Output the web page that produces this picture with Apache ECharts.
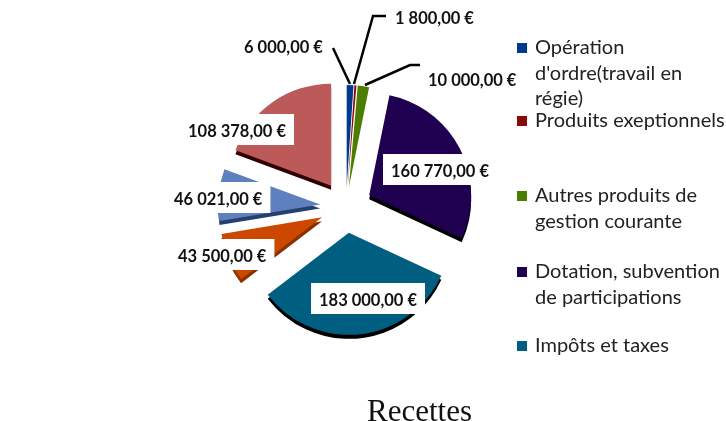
<!DOCTYPE html>
<html>
<head>
<meta charset="utf-8">
<style>
html, body { margin: 0; padding: 0; background: #fff; }
#chart { width: 726px; height: 421px; }
</style>
<script src="https://cdn.jsdelivr.net/npm/echarts@6/dist/echarts.min.js"></script>
</head>
<body>
<div id="chart"></div>
<script>
// values, clockwise from the top
const names = [
    "Opération d'ordre(travail en régie)",
    'Produits exeptionnels',
    'Autres produits de gestion courante',
    'Dotation, subvention de participations',
    'Impôts et taxes',
    'Charges diverses',
    'Produits divers',
    'Autres recettes'
];
const values = [6000, 1800, 10000, 160770, 183000, 43500, 46021, 108378];
const colors = ['#003a8c', '#8a0a0a', '#4a7d00', '#200050', '#005f80', '#cc4800', '#5f80bf', '#bc5a5a'];
const sideColors = ['#001a4c', '#400000', '#254000', '#000000', '#000000', '#8a3000', '#24406f', '#300000'];
const smallSlices = [0, 1, 2];

// legend: first line goes in the legend, the rest of each name below it
const legendFirstLines = ['Opération', 'Produits exeptionnels', 'Autres produits de', 'Dotation, subvention', 'Impôts et taxes'];
const legendMoreLines = [["d'ordre(travail en", 'régie)'], [], ['gestion courante'], ['de participations'], []];
const legendTops = [38, 111, 186, 262, 336];
const legendLineGap = 25.5;

// left/top of the white label boxes, one per slice
const labelPos = [
    [236, 30], [387, 1], [420, 63], [383, 154], [311, 283], [170, 239], [166, 182], [180, 114]
];
const leaders = {
    0: [[350, 84], [333, 48]],
    1: [[354, 84], [373, 16], [386, 16]],
    2: [[365, 85], [410, 65], [420, 65]]
};

const pieCenter = [346, 207];
const pieRadius = 102;

function money(v) {
    return String(v).replace(/\B(?=(\d{3})+$)/g, ' ') + ',00 €';
}

function sliceData(palette, visible) {
    return values.map(function (v, i) {
        return {
            name: names[i],
            value: v,
            selected: true,
            itemStyle: { color: visible(i) ? palette[i] : 'transparent' }
        };
    });
}

function pieSeries(center, offset, data) {
    return {
        type: 'pie',
        silent: true,
        radius: [0, pieRadius],
        center: center,
        startAngle: 90,
        selectedMode: 'multiple',
        selectedOffset: offset,
        animation: false,
        label: { show: false },
        labelLine: { show: false },
        data: data
    };
}

// transparent pie on top, only carries the labels and leader lines
function labelSeries() {
    return {
        type: 'pie',
        silent: true,
        z: 10,
        radius: [0, pieRadius],
        center: pieCenter,
        startAngle: 90,
        avoidLabelOverlap: false,
        animation: false,
        itemStyle: { color: 'transparent' },
        data: values.map(function (v, i) {
            return {
                name: names[i],
                value: v,
                labelLine: { show: smallSlices.indexOf(i) >= 0 }
            };
        }),
        label: {
            position: 'outside',
            formatter: function (p) { return money(p.value); },
            backgroundColor: '#fff',
            padding: [9, 8, 5, 8],
            fontFamily: 'Lato',
            fontWeight: 'bold',
            fontSize: 16.5,
            color: '#111'
        },
        labelLine: { lineStyle: { color: '#000', width: 2.5 } },
        labelLayout: function (p) {
            const pos = labelPos[p.dataIndex];
            const out = { x: pos[0], y: pos[1], align: 'left', verticalAlign: 'top' };
            if (leaders[p.dataIndex]) out.labelLinePoints = leaders[p.dataIndex];
            return out;
        }
    };
}

function isBig(i) { return smallSlices.indexOf(i) < 0; }
function isSmall(i) { return smallSlices.indexOf(i) >= 0; }

const legendIds = [0, 1, 2, 3, 4];
const legends = legendIds.map(function (i) {
    return {
        left: 517,
        top: legendTops[i],
        padding: 0,
        itemWidth: 10,
        itemHeight: 10,
        selectedMode: false,
        icon: 'rect',
        data: [{ name: names[i], itemStyle: { color: colors[i] } }],
        formatter: function () { return legendFirstLines[i]; },
        textStyle: { fontFamily: 'Lato', fontSize: 20, color: '#222', padding: [0, 0, 0, 3] }
    };
});

const extraText = [];
legendMoreLines.forEach(function (lines, i) {
    lines.forEach(function (line, j) {
        extraText.push({
            type: 'text',
            left: 535,
            top: legendTops[i] + legendLineGap * (j + 1),
            style: { text: line, font: '20px Lato', fill: '#222' }
        });
    });
});

const chart = echarts.init(document.getElementById('chart'), null, { renderer: 'canvas' });
chart.setOption({
    backgroundColor: '#fff',
    animation: false,
    title: {
        text: 'Recettes',
        left: 367,
        top: 397,
        padding: 0,
        textStyle: { fontFamily: 'Liberation Serif', fontWeight: 'normal', fontSize: 31, color: '#111' }
    },
    legend: legends,
    graphic: extraText,
    series: [
        pieSeries([pieCenter[0], pieCenter[1] + 4], 26, sliceData(sideColors, isBig)),
        pieSeries(pieCenter, 26, sliceData(colors, isBig)),
        pieSeries(pieCenter, 20, sliceData(colors, isSmall)),
        labelSeries()
    ]
});
window.addEventListener('resize', function () {
    chart.resize();
});
</script>
</body>
</html>
